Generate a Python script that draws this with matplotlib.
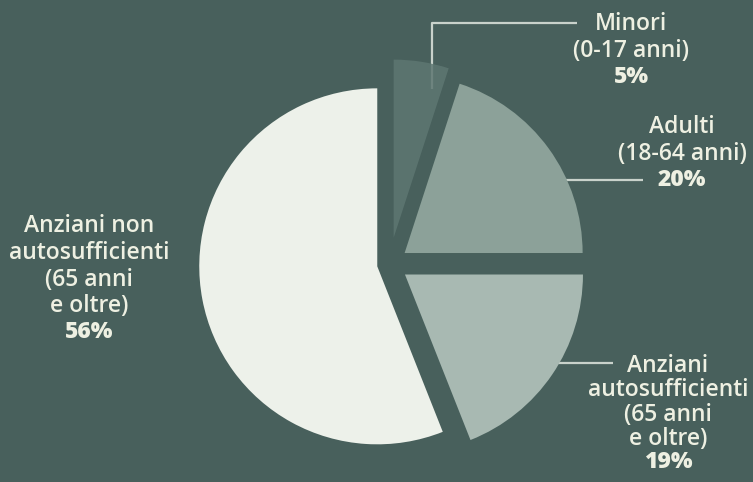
import matplotlib
matplotlib.use("Agg")
import matplotlib.pyplot as plt

W, H = 753, 482
BG = "#48605c"
TXT = "#eef0e2"
LEAD = "#c9d2cb"
FONT = ["Open Sans", "DejaVu Sans"]

# data (clockwise from 12 o'clock)
labels = ["Minori", "Adulti", "Anziani autosufficienti", "Anziani non autosufficienti"]
shares = [5, 20, 19, 56]
colors = ["#5e7772", "#8ca199", "#a8b9b2", "#edf1ea"]
explode = [0.15, 0.105, 0.105, 0.07]   # fraction of radius

# label blocks: lines of text, bold percentage, centre x, first-line y, line step
blocks = [
    (["Minori", "(0-17 anni)"], "5%", 631, 24, 27),
    (["Adulti", "(18-64 anni)"], "20%", 682, 127, 27),
    (["Anziani", "autosufficienti", "(65 anni", "e oltre)"], "19%", 668, 366, 24.3),
    (["Anziani non", "autosufficienti", "(65 anni", "e oltre)"], "56%", 89, 226, 26.8),
]
leaders = [
    [(577, 23), (432, 23), (432, 89)],
    [(525, 180), (643, 180)],
    [(527, 363), (613, 363)],
]

R = 178
fig = plt.figure(figsize=(W / 100, H / 100), dpi=100, facecolor=BG)
ax = fig.add_axes([0, 0, 1, 1])
ax.set_facecolor(BG)
ax.set_xlim(0, W)
ax.set_ylim(H, 0)
ax.axis("off")

# pie drawn in a y-up overlay so that angles run as usual
pax = fig.add_axes([0, 0, 1, 1])
wedges, _ = pax.pie(shares, colors=colors, explode=[e * R for e in explode],
                    startangle=90, counterclock=False, radius=R,
                    center=(389.5, H - 264), frame=True,
                    wedgeprops=dict(linewidth=0))
pax.set_xlim(0, W)
pax.set_ylim(0, H)
pax.set_aspect("auto")
pax.axis("off")
wedges[0].set_alpha(0.85)

for pts in leaders:
    xs, ys = zip(*pts)
    ax.plot(xs, ys, color=LEAD, lw=1.6, solid_capstyle="butt", zorder=3)

for lines, pct, x, y, step in blocks:
    for i, ln in enumerate(lines):
        ax.text(x, y + i * step, ln, ha="center", va="center", color=TXT,
                fontsize=16.5, fontweight="semibold", family=FONT, zorder=4)
    ax.text(x, y + len(lines) * step - 1, pct, ha="center", va="center", color=TXT,
            fontsize=16.5, fontweight=800, family=FONT, zorder=4)

fig.savefig("out.png", dpi=100, facecolor=BG)
